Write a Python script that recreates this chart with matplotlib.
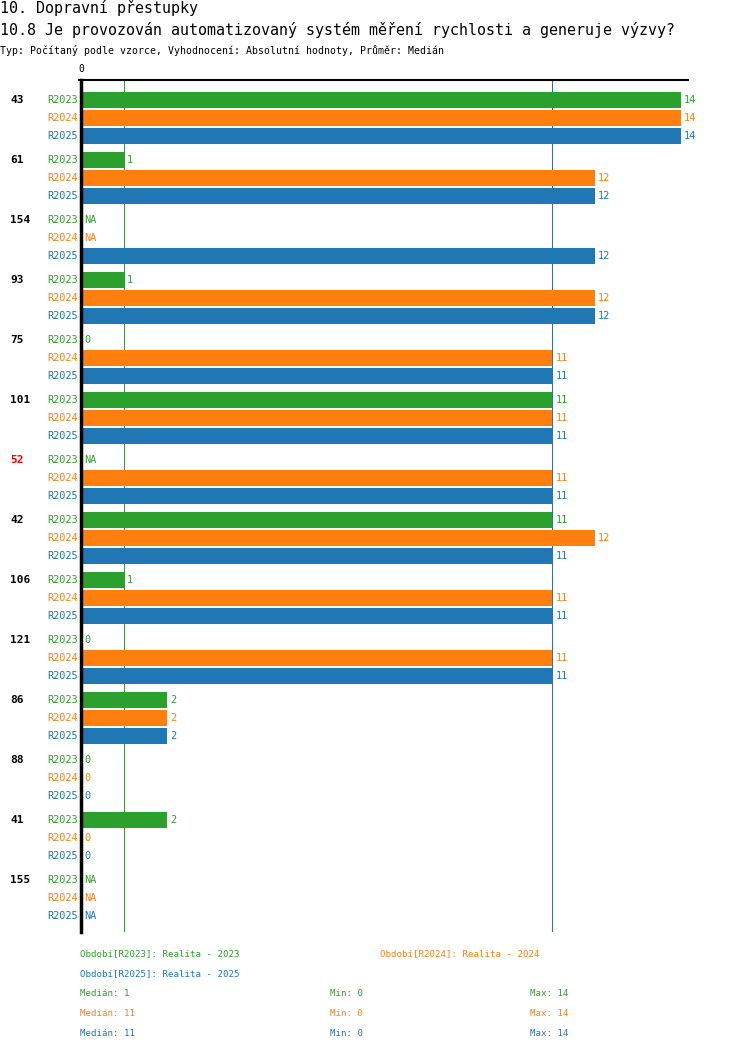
import numpy as np
import matplotlib
matplotlib.use('Agg')
import matplotlib.pyplot as plt

plt.rcParams['font.family'] = ['DejaVu Sans Mono']

title1 = '10. Dopravní přestupky'
title2 = '10.8 Je provozován automatizovaný systém měření rychlosti a generuje výzvy?'
subtitle = 'Typ: Počítaný podle vzorce, Vyhodnocení: Absolutní hodnoty, Průměr: Medián'

groups = ['43', '61', '154', '93', '75', '101', '52', '42', '106', '121', '86', '88', '41', '155']
group_colors = ['black'] * 6 + ['red'] + ['black'] * 7
series = ['R2023', 'R2024', 'R2025']
colors = ['#2ca02c', '#ff7f0e', '#1f77b4']
NA = None
r2023 = [14, 1, NA, 1, 0, 11, NA, 11, 1, 0, 2, 0, 2, NA]
r2024 = [14, 12, NA, 12, 11, 11, 11, 12, 11, 11, 2, 0, 0, NA]
r2025 = [14, 12, 12, 12, 11, 11, 11, 11, 11, 11, 2, 0, 0, NA]
values = [r2023, r2024, r2025]
medians = [1, 11, 11]
mins = [0, 0, 0]
maxs = [14, 14, 14]
legend_texts = ['Období[R2023]: Realita - 2023', 'Období[R2024]: Realita - 2024',
                'Období[R2025]: Realita - 2025']

W, H = 750, 1052
fig = plt.figure(figsize=(W / 100, H / 100), dpi=100)

# axes in pixel layout: x 81..681 for 0..14, y 80..932
ax = fig.add_axes([81 / W, 1 - 932 / H, 600 / W, 852 / H])
ax.set_xlim(0, 14)
ax.set_ylim(852, 0)
ax.axis('off')

px = 14 / 600  # data units per pixel
for i, g in enumerate(groups):
    for j, s in enumerate(series):
        y = 20 + i * 60 + j * 18
        v = values[j][i]
        if v is None:
            ax.text(3 * px, y, 'NA', color=colors[j], fontsize=7.4, va='center', ha='left')
        else:
            if v > 0:
                ax.barh(y, v, height=16, left=0, color=colors[j])
            ax.text(v + 3 * px, y, str(v), color=colors[j], fontsize=7.4, va='center', ha='left')
        ax.text(-3 * px, y, s, color=colors[j], fontsize=7.4, va='center', ha='right', clip_on=False)
    ax.text(-71 * px, 20 + i * 60, g, color=group_colors[i], fontsize=8, fontweight='bold',
            va='center', ha='left', clip_on=False)

# median lines
for j in [1, 2, 0]:
    ax.plot([medians[j], medians[j]], [0, 852], color=colors[j], lw=0.75, zorder=0)

# axes lines
ax.plot([0, 0], [0, 852], color='black', lw=2.5, clip_on=False)
ax.plot([-2 * px, 14 + 7 * px], [0, 0], color='black', lw=1.5, clip_on=False)
ax.text(0, -6, '0', fontsize=7, ha='center', va='bottom', clip_on=False)

# header
fig.text(0, 1 - 8 / H, title1, fontsize=10.8, va='center', ha='left')
fig.text(0, 1 - 30 / H, title2, fontsize=10.8, va='center', ha='left')
fig.text(0, 1 - 50 / H, subtitle, fontsize=7.1, va='center', ha='left')

# legend
leg_pos = [(80, 954), (380, 954), (80, 974)]
for j in range(3):
    fig.text(leg_pos[j][0] / W, 1 - leg_pos[j][1] / H, legend_texts[j], color=colors[j],
             fontsize=6.6, va='center', ha='left')
for j in range(3):
    y = 1 - (994 + j * 20) / H
    fig.text(80 / W, y, 'Medián: %d' % medians[j], color=colors[j], fontsize=6.6, va='center')
    fig.text(330 / W, y, 'Min: %d' % mins[j], color=colors[j], fontsize=6.6, va='center')
    fig.text(530 / W, y, 'Max: %d' % maxs[j], color=colors[j], fontsize=6.6, va='center')

fig.savefig('out.png', dpi=100)
